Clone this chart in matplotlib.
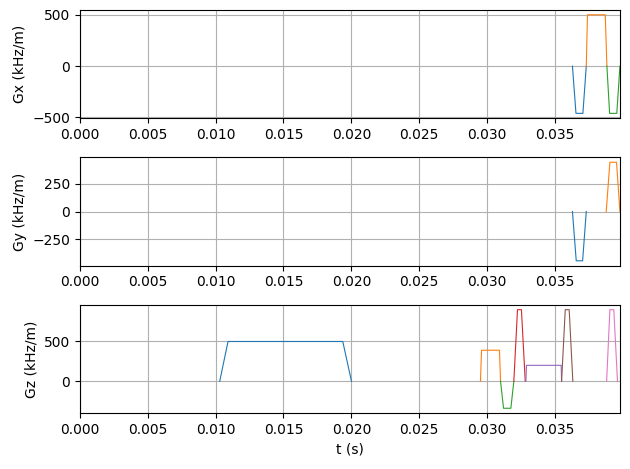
import matplotlib
matplotlib.use("Agg")
import matplotlib.pyplot as plt

# Gradient waveforms: corner times (s) and amplitudes (kHz/m)
gx_t = [
    [0.03630, 0.03656, 0.03707, 0.03732],
    [0.03732, 0.03741, 0.03872, 0.03884],
    [0.03884, 0.03904, 0.03957, 0.03980],
]
gx_amp = [
    [0, -460, -460, 0],
    [0, 500, 500, 0],
    [0, -460, -460, 0],
]

gy_t = [
    [0.03630, 0.03658, 0.03705, 0.03732],
    [0.03879, 0.03906, 0.03955, 0.03980],
]
gy_amp = [
    [0, -445, -445, 0],
    [0, 445, 445, 0],
]

gz_t = [
    [0.01030, 0.01091, 0.01937, 0.02001],
    [0.02952, 0.02960, 0.03092, 0.03100],
    [0.03100, 0.03122, 0.03176, 0.03198],
    [0.03198, 0.03225, 0.03254, 0.03282],
    [0.03287, 0.03291, 0.03547, 0.03550],
    [0.03550, 0.03577, 0.03606, 0.03633],
    [0.03882, 0.03906, 0.03935, 0.03962],
]
gz_amp = [
    [0, 500, 500, 0],
    [0, 390, 390, 0],
    [0, -340, -340, 0],
    [0, 900, 900, 0],
    [0, 200, 200, 0],
    [0, 900, 900, 0],
    [0, 900, 900, 0],
]

t_end = 0.0398

fig, axes = plt.subplots(3, 1, figsize=(6.3, 4.69), dpi=100)

channels = [
    ("Gx (kHz/m)", gx_t, gx_amp),
    ("Gy (kHz/m)", gy_t, gy_amp),
    ("Gz (kHz/m)", gz_t, gz_amp),
]

for ax, (label, ts, amps) in zip(axes, channels):
    for t, a in zip(ts, amps):
        ax.plot(t, a, linewidth=0.8)
    ax.set_ylabel(label)
    ax.set_xlim(0, t_end)
    ax.grid(True)

axes[-1].set_xlabel("t (s)")

# match the reference's margins instead of tight_layout
plt.subplots_adjust(left=0.127, right=0.984, top=0.979, bottom=0.119, hspace=0.36)
plt.savefig("out.png")
